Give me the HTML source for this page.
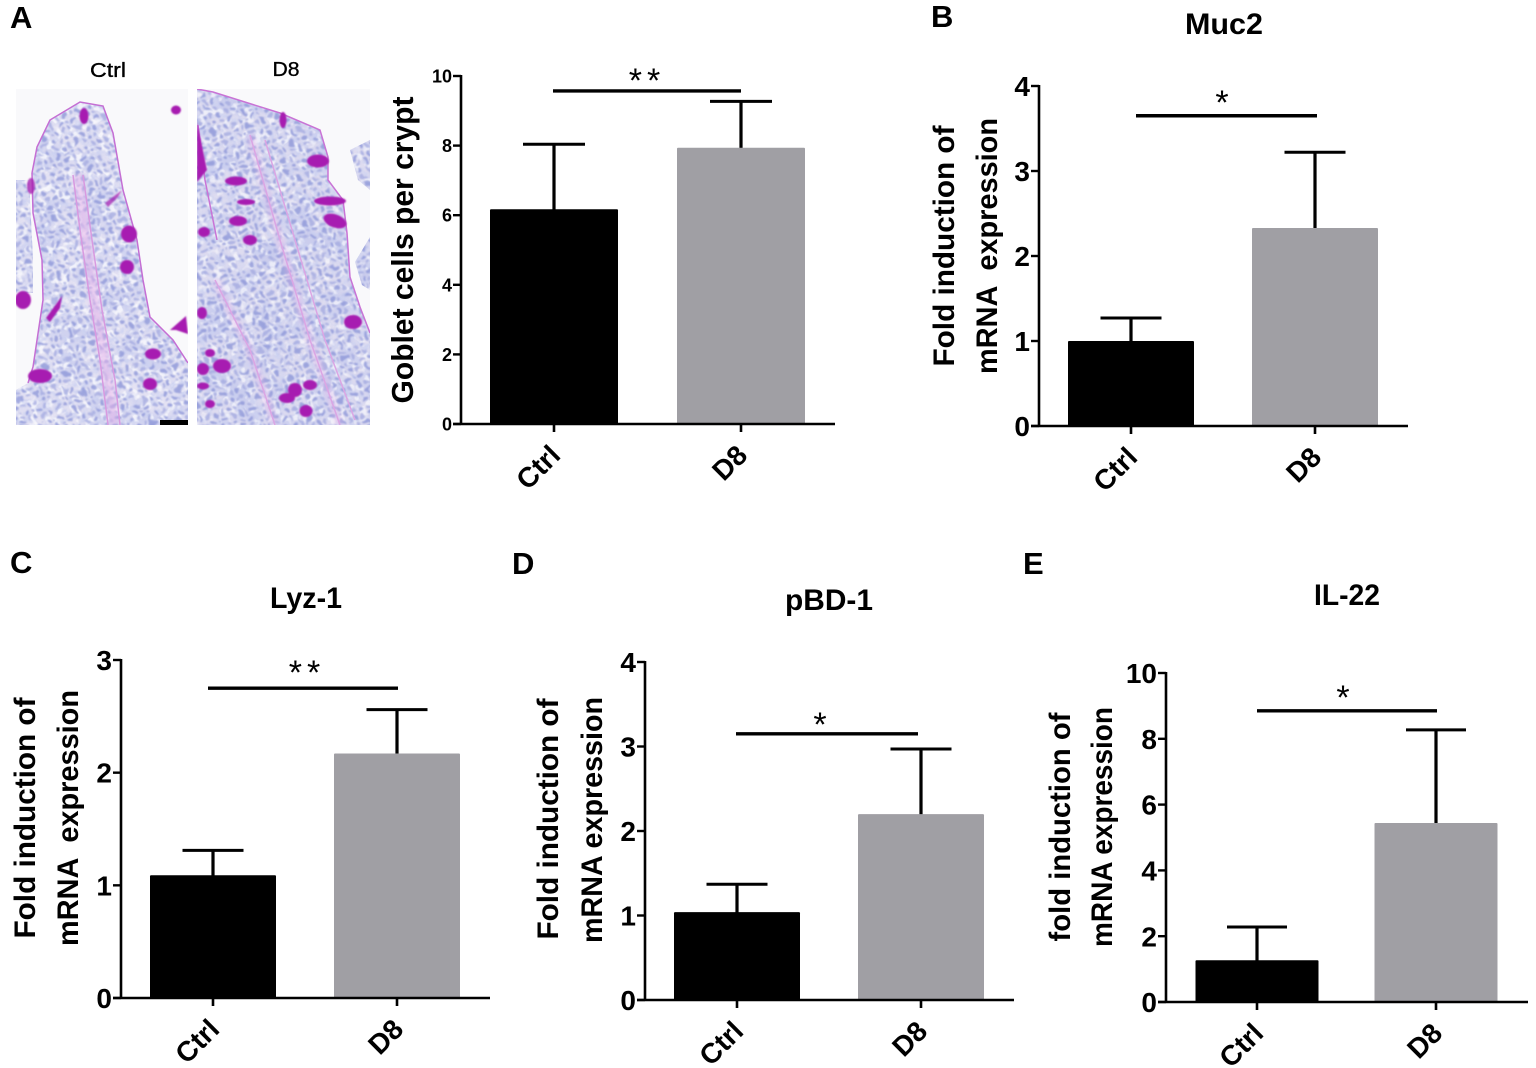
<!DOCTYPE html>
<html lang="en">
<head>
<meta charset="utf-8">
<title>Goblet cells and antimicrobial gene expression, Ctrl vs D8</title>
<style>
html,body{margin:0;padding:0;background:#fff;width:1536px;height:1068px;overflow:hidden}
svg{display:block}
text{font-family:"Liberation Sans",sans-serif;font-weight:700;fill:#000}
</style>
</head>
<body>
<svg id="figure" xmlns="http://www.w3.org/2000/svg" width="1536" height="1068" viewBox="0 0 1536 1068">
<defs>
  <filter id="mottle" x="0" y="0" width="100%" height="100%">
    <feTurbulence type="fractalNoise" baseFrequency="0.16" numOctaves="2" seed="7"/>
    <feColorMatrix type="matrix" values="0 0 0 0 0.60  0 0 0 0 0.64  0 0 0 0 0.88  3.4 0 0 0 -1.35"/>
  </filter>
  <filter id="cloud" x="0" y="0" width="100%" height="100%">
    <feTurbulence type="fractalNoise" baseFrequency="0.035" numOctaves="2" seed="11"/>
    <feColorMatrix type="matrix" values="0 0 0 0 0.55  0 0 0 0 0.58  0 0 0 0 0.85  4 0 0 0 -1.8"/>
  </filter>
  <filter id="speck" x="0" y="0" width="100%" height="100%">
    <feTurbulence type="fractalNoise" baseFrequency="0.13" numOctaves="2" seed="21"/>
    <feColorMatrix type="matrix" values="0 0 0 0 1  0 0 0 0 1  0 0 0 0 1  0 5 0 0 -2.5"/>
  </filter>
  <filter id="wobble" x="0" y="0" width="100%" height="100%">
    <feTurbulence type="fractalNoise" baseFrequency="0.09" numOctaves="2" seed="3" result="n"/>
    <feDisplacementMap in="SourceGraphic" in2="n" scale="13" xChannelSelector="R" yChannelSelector="G"/>
    <feGaussianBlur stdDeviation="0.7"/>
  </filter>
  <pattern id="nuclei" width="11" height="10" patternUnits="userSpaceOnUse" patternTransform="rotate(22)">
    <ellipse cx="3" cy="3" rx="2.6" ry="2.2" fill="#8d96d8"/>
    <ellipse cx="8.5" cy="8" rx="2.4" ry="2" fill="#a4aae0"/>
  </pattern>
  <filter id="soft" x="-30%" y="-30%" width="160%" height="160%"><feGaussianBlur stdDeviation="0.9"/></filter>
  <filter id="haze" x="-30%" y="-30%" width="160%" height="160%"><feGaussianBlur stdDeviation="2.2"/></filter>
  <clipPath id="clip-ctrl"><rect x="16" y="89" width="172" height="336"/></clipPath>
  <clipPath id="clip-d8"><rect x="197" y="89" width="173" height="336"/></clipPath>
  <clipPath id="tissue-ctrl"><path d="M32 173 37 147 50 120 80 102 103 106 113 133 123 190 137 240 143 280 150 317 173 340 188 363V425H16V390L28 383 33 367 43 300 42 260 33 213Z"/><path d="M16 180H29L33 260 33 293 16 293Z"/></clipPath>
  <clipPath id="tissue-d8"><path d="M197 89 213 92 280 113 320 130 328 157 328 180 343 200 347 233 350 277 360 307 370 333V425H197Z"/><path d="M350 150 370 140V190L358 180Z"/><path d="M370 237 355 262 362 285 370 290Z"/></clipPath>
</defs>
<rect width="1536" height="1068" fill="#fff"/>

<g>
  <g clip-path="url(#clip-ctrl)">
    <rect x="16" y="89" width="172" height="336" fill="#f9f9fb"/>
    <g clip-path="url(#tissue-ctrl)">
      <rect x="16" y="89" width="172" height="336" fill="#e4e2f3"/>
      <rect x="16" y="89" width="172" height="336" filter="url(#cloud)" opacity=".6"/>
      <rect x="16" y="89" width="172" height="336" filter="url(#mottle)" opacity=".7"/>
      <rect x="16" y="89" width="172" height="336" filter="url(#speck)" opacity=".7"/>
      <rect x="6" y="79" width="192" height="356" fill="url(#nuclei)" filter="url(#wobble)" opacity=".8"/>
      <path d="M78 175 86 240 96 310 108 380 114 425" fill="none" stroke="#e6b4ea" stroke-width="10" filter="url(#haze)" opacity=".55"/>
    </g>
    <g fill="none" stroke="#c56fd4" stroke-width="1.5">
      <path d="M32 173 37 147 50 120 80 102 103 106 113 133 123 190 137 240 143 280 150 317 173 340 188 363"/>
      <path d="M32 173 33 213 42 260 43 300 33 367 28 383"/>
      <path d="M73 175 80 230 90 300 100 360 108 425M83 175 92 240 102 310 115 380 120 425" stroke="#d89ae0"/>
    </g>
    <g fill="#a71fb1" filter="url(#soft)">
      <ellipse cx="84" cy="116" rx="4.5" ry="8"/><ellipse cx="176" cy="110" rx="5" ry="4.5"/>
      <ellipse cx="129" cy="234" rx="8" ry="8.5"/><ellipse cx="127" cy="267" rx="7" ry="7"/>
      <ellipse cx="23" cy="300" rx="8" ry="9"/><path d="M46 318 62 296 60 308 50 322Z"/>
      <ellipse cx="40" cy="376" rx="12" ry="7"/><ellipse cx="153" cy="354" rx="8" ry="5.5"/>
      <ellipse cx="150" cy="384" rx="7" ry="6"/><path d="M170 330 186 316 188 334 176 330Z"/>
      <ellipse cx="31" cy="186" rx="4" ry="8" opacity=".8"/><path d="M105 203 122 190 118 197 108 207Z" opacity=".7"/>
    </g>
    <rect x="160" y="420" width="28" height="5" fill="#000"/>
  </g>
  <g clip-path="url(#clip-d8)">
    <rect x="197" y="89" width="173" height="336" fill="#f9f9fb"/>
    <g clip-path="url(#tissue-d8)">
      <rect x="197" y="89" width="173" height="336" fill="#dedcf0"/>
      <rect x="197" y="89" width="173" height="336" filter="url(#cloud)" opacity=".75"/>
      <rect x="197" y="89" width="173" height="336" filter="url(#mottle)" opacity=".7"/>
      <rect x="197" y="89" width="173" height="336" filter="url(#speck)" opacity=".6"/>
      <rect x="187" y="79" width="193" height="356" fill="url(#nuclei)" filter="url(#wobble)" opacity=".8"/>
      <path d="M215 280 250 350 275 425M250 135 280 240 310 340 340 425" fill="none" stroke="#e6b4ea" stroke-width="7" filter="url(#haze)" opacity=".4"/>
    </g>
    <g fill="none" stroke="#c974d6" stroke-width="1.5">
      <path d="M197 89 213 92 280 113 320 130 328 157 328 180 343 200 347 233 350 277 360 307 370 333"/>
      <path d="M198 125 205 180 217 240"/>
      <path d="M250 135 280 240 310 340 340 425M265 140 295 240 325 340 355 420M215 280 250 350 275 425" stroke="#dba6e4"/>
    </g>
    <g fill="#a71fb1" filter="url(#soft)">
      <ellipse cx="318" cy="161" rx="11" ry="6.5"/><ellipse cx="236" cy="181" rx="11" ry="4.5"/>
      <ellipse cx="246" cy="202" rx="9" ry="3"/><ellipse cx="238" cy="221" rx="9" ry="5"/>
      <ellipse cx="250" cy="240" rx="7" ry="5"/><ellipse cx="330" cy="201" rx="16" ry="4.5"/>
      <ellipse cx="335" cy="221" rx="12" ry="6.5" transform="rotate(20 335 221)"/>
      <ellipse cx="283" cy="120" rx="3.5" ry="8"/><path d="M197 122 207 170 197 182Z"/>
      <ellipse cx="353" cy="322" rx="9" ry="7"/><ellipse cx="222" cy="366" rx="9" ry="7"/>
      <ellipse cx="203" cy="369" rx="6" ry="6"/><ellipse cx="210" cy="353" rx="5" ry="4"/>
      <ellipse cx="202" cy="313" rx="5" ry="6"/><ellipse cx="295" cy="390" rx="7" ry="7"/>
      <ellipse cx="310" cy="385" rx="7" ry="5"/><ellipse cx="287" cy="398" rx="8" ry="5"/>
      <ellipse cx="306" cy="411" rx="6.5" ry="6"/><ellipse cx="210" cy="404" rx="5" ry="4"/>
      <ellipse cx="203" cy="386" rx="6" ry="3.5"/><ellipse cx="204" cy="232" rx="6" ry="5"/>
    </g>
  </g>
  <text x="108" y="77" font-size="20" text-anchor="middle" textLength="36" lengthAdjust="spacingAndGlyphs" style="font-weight:400;stroke:#000;stroke-width:.35">Ctrl</text>
  <text x="286" y="76" font-size="20" text-anchor="middle" textLength="27" lengthAdjust="spacingAndGlyphs" style="font-weight:400;stroke:#000;stroke-width:.35">D8</text>
</g>
<g id="charts"></g>
</svg>
<script>
// ---- chart data ----
const categories = ['Ctrl', 'D8'];

const gobletMeans = [6.17, 7.94];
const gobletErrors = [1.87, 1.33];
const gobletTicks = [0, 2, 4, 6, 8, 10];
const gobletSigValue = 9.57;

const muc2Means = [1.0, 2.33];
const muc2Errors = [0.27, 0.89];
const muc2Ticks = [0, 1, 2, 3, 4];
const muc2SigValue = 3.65;

const lyz1Means = [1.09, 2.17];
const lyz1Errors = [0.22, 0.39];
const lyz1Ticks = [0, 1, 2, 3];
const lyz1SigValue = 2.75;

const pbd1Means = [1.04, 2.2];
const pbd1Errors = [0.33, 0.77];
const pbd1Ticks = [0, 1, 2, 3, 4];
const pbd1SigValue = 3.15;

const il22Means = [1.27, 5.44];
const il22Errors = [1.01, 2.83];
const il22Ticks = [0, 2, 4, 6, 8, 10];
const il22SigValue = 8.85;

// ---- layout of each panel ----
const panels = [
  {id:'a', letter:'A', lx:10, ly:28, means:gobletMeans, errs:gobletErrors, ticks:gobletTicks, sig:gobletSigValue, mark:'**',
   ax:461, y0:424, yTop:76, xEnd:835, centers:[554,741], barW:128, capW:62, tickSize:18, tickLen:8, sx:[553,741], markX:647, markDy:-19,
   ylabels:[{t:'Goblet cells per crypt', x:413, y:250, len:307, size:31}], xlabSize:28},
  {id:'b', letter:'B', lx:931, ly:27, title:'Muc2', tx:1224, ty:34, tw:78, means:muc2Means, errs:muc2Errors, ticks:muc2Ticks, sig:muc2SigValue, mark:'*',
   ax:1039, y0:426, yTop:86, xEnd:1408, centers:[1131,1315], barW:126, capW:61, tickSize:28, tickLen:8, sx:[1136,1317], markX:1222, markDy:-22,
   ylabels:[{t:'Fold induction of', x:954, y:246, len:241, size:30},{t:'mRNA  expression', x:997, y:246, len:256, size:30}], xlabSize:28},
  {id:'c', letter:'C', lx:10, ly:573, title:'Lyz-1', tx:306, ty:608, tw:72, means:lyz1Means, errs:lyz1Errors, ticks:lyz1Ticks, sig:lyz1SigValue, mark:'**',
   ax:121, y0:998, yTop:660, xEnd:490, centers:[213,397], barW:126, capW:61, tickSize:28, tickLen:8, sx:[208,398], markX:307, markDy:-24,
   ylabels:[{t:'Fold induction of', x:35, y:818, len:241, size:30},{t:'mRNA  expression', x:78, y:818, len:256, size:30}], xlabSize:28},
  {id:'d', letter:'D', lx:512, ly:574, title:'pBD-1', tx:829, ty:610, tw:88, means:pbd1Means, errs:pbd1Errors, ticks:pbd1Ticks, sig:pbd1SigValue, mark:'*',
   ax:645, y0:1000, yTop:662, xEnd:1014, centers:[737,921], barW:126, capW:61, tickSize:28, tickLen:8, sx:[736,918], markX:820, markDy:-18,
   ylabels:[{t:'Fold induction of', x:558, y:819, len:241, size:30},{t:'mRNA expression', x:602, y:820, len:246, size:30}], xlabSize:28},
  {id:'e', letter:'E', lx:1023, ly:574, title:'IL-22', tx:1347, ty:605, tw:66, means:il22Means, errs:il22Errors, ticks:il22Ticks, sig:il22SigValue, mark:'*',
   ax:1166, y0:1002, yTop:673, xEnd:1528, centers:[1257,1436], barW:123, capW:60, tickSize:28, tickLen:8, sx:[1257,1437], markX:1343, markDy:-22,
   ylabels:[{t:'fold induction of', x:1070, y:827, len:229, size:30},{t:'mRNA expression', x:1112, y:827, len:240, size:30}], xlabSize:28}
];

const NS = 'http://www.w3.org/2000/svg';
function mk(parent, tag, name, attrs, txt) {
  const el = document.createElementNS(NS, tag);
  
  
  for (const k in attrs) el.setAttribute(k, attrs[k]);
  if (txt !== undefined) el.textContent = txt;
  parent.appendChild(el);
  return el;
}
function yScale(p) {
  const max = p.ticks[p.ticks.length - 1];
  return v => p.y0 - (v / max) * (p.y0 - p.yTop);
}
function drawPanel(p, root) {
  const y = yScale(p);
  const g = mk(root, 'g', 'panel-' + p.id, {});
  mk(g, 'text', 'panel-letter-' + p.id, {x:p.lx, y:p.ly, 'font-size':31}, p.letter);
  if (p.title) mk(g, 'text', 'chart-title-' + p.id, {x:p.tx, y:p.ty, 'font-size':30, 'text-anchor':'middle', textLength:p.tw, lengthAdjust:'spacingAndGlyphs'}, p.title);

  p.means.forEach((m, i) => {
    const cx = p.centers[i], top = y(m), errTop = y(m + p.errs[i]);
    const fill = i === 0 ? '#000' : '#a09fa4';
    mk(g, 'line', 'error-stem-' + categories[i].toLowerCase(), {x1:cx, x2:cx, y1:top + 1, y2:errTop, stroke:'#000', 'stroke-width':3.2});
    mk(g, 'line', 'error-cap-' + categories[i].toLowerCase(), {x1:cx - p.capW / 2, x2:cx + p.capW / 2, y1:errTop, y2:errTop, stroke:'#000', 'stroke-width':3});
    mk(g, 'rect', 'bar-' + categories[i].toLowerCase(), {x:cx - p.barW / 2, y:top, width:p.barW, height:p.y0 - top, fill:fill, rx:1});
    mk(g, 'line', 'x-tick-' + categories[i].toLowerCase(), {x1:cx, x2:cx, y1:p.y0, y2:p.y0 + 8, stroke:'#000', 'stroke-width':2.6});
    const lx = cx + 8, ly = p.y0 + 33;
    mk(g, 'text', 'x-label-' + categories[i].toLowerCase(), {x:lx, y:ly, 'font-size':p.xlabSize, 'text-anchor':'end', transform:'rotate(-45 ' + lx + ' ' + ly + ')'}, categories[i]);
  });

  mk(g, 'line', 'y-axis', {x1:p.ax, x2:p.ax, y1:p.yTop - 1, y2:p.y0 + 1, stroke:'#000', 'stroke-width':2.6});
  mk(g, 'line', 'x-axis', {x1:p.ax - p.tickLen, x2:p.xEnd, y1:p.y0, y2:p.y0, stroke:'#000', 'stroke-width':2.6});
  p.ticks.forEach(t => {
    const ty = y(t);
    mk(g, 'line', 'y-tick-' + t, {x1:p.ax - p.tickLen, x2:p.ax, y1:ty, y2:ty, stroke:'#000', 'stroke-width':2.4});
    mk(g, 'text', 'y-tick-label-' + t, {x:p.ax - p.tickLen - 1, y:ty + p.tickSize * 0.36, 'font-size':p.tickSize, 'text-anchor':'end'}, t);
  });

  const sy = y(p.sig);
  mk(g, 'line', 'significance-bar', {x1:p.sx[0], x2:p.sx[1], y1:sy, y2:sy, stroke:'#000', 'stroke-width':3.4});
  mk(g, 'text', 'significance-mark', {x:p.markX, y:sy + p.markDy + 20, 'font-size':34, 'text-anchor':'middle', 'letter-spacing':p.mark.length > 1 ? 5 : 0, style:'font-weight:400'}, p.mark);

  p.ylabels.forEach((l, i) => {
    mk(g, 'text', 'y-axis-title-line-' + (i + 1), {x:l.x, y:l.y, 'font-size':l.size, 'text-anchor':'middle', textLength:l.len, lengthAdjust:'spacingAndGlyphs', style:'white-space:pre', transform:'rotate(-90 ' + l.x + ' ' + l.y + ')'}, l.t);
  });
}
const root = document.getElementById('charts');
panels.forEach(p => drawPanel(p, root));
</script>
</body>
</html>
